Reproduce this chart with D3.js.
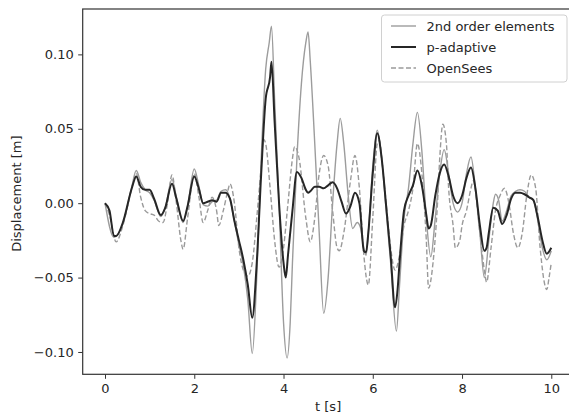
<!DOCTYPE html>
<html>
<head>
<meta charset="utf-8">
<script src="https://cdn.jsdelivr.net/npm/d3@7"></script>
<style>
  html, body { margin: 0; padding: 0; background: #fff; }
  svg { display: block; }
  text { font-family: "DejaVu Sans", sans-serif; fill: #262626; }
</style>
</head>
<body>
<svg id="chart" width="569" height="420"></svg>
<script>
// ---- data ----
const seriesNames = ["2nd order elements", "p-adaptive", "OpenSees"];

const secondOrder = [
  [0,0.000],[0.2,-0.023],[0.4,-0.014],[0.6,0.011],[0.7,0.022],[0.8,0.014],[0.9,0.009],[1.0,0.007],
  [1.1,0.002],[1.25,-0.009],[1.35,-0.003],[1.5,0.016],[1.6,0.004],[1.75,-0.013],[1.85,-0.002],
  [2.0,0.023],[2.1,0.012],[2.2,-0.001],[2.3,-0.002],[2.4,0.001],[2.5,0.002],[2.6,0.008],[2.7,0.009],
  [2.8,0.003],[2.9,-0.012],[3.0,-0.028],[3.1,-0.042],[3.2,-0.065],[3.3,-0.101],[3.4,-0.050],
  [3.5,0.030],[3.6,0.090],[3.68,0.108],[3.73,0.119],[3.8,0.070],[3.9,0.000],[4.0,-0.080],
  [4.08,-0.104],[4.15,-0.080],[4.2,-0.040],[4.3,0.030],[4.4,0.080],[4.5,0.108],[4.55,0.115],
  [4.6,0.095],[4.7,0.040],[4.8,-0.020],[4.9,-0.074],[5.0,-0.050],[5.1,0.000],[5.2,0.040],
  [5.27,0.057],[5.35,0.040],[5.45,0.005],[5.55,-0.017],[5.65,-0.013],[5.72,-0.016],[5.8,-0.030],
  [5.85,-0.035],[5.9,-0.020],[6.0,0.025],[6.1,0.049],[6.2,0.030],[6.3,-0.005],[6.4,-0.040],
  [6.53,-0.086],[6.6,-0.055],[6.7,-0.010],[6.8,0.010],[6.9,0.040],[7.0,0.061],[7.1,0.035],
  [7.2,-0.010],[7.3,-0.036],[7.4,-0.010],[7.5,0.020],[7.6,0.036],[7.7,0.020],[7.8,0.000],
  [7.9,-0.006],[8.0,0.000],[8.1,0.020],[8.2,0.031],[8.3,0.010],[8.4,-0.020],[8.5,-0.050],
  [8.6,-0.025],[8.7,0.000],[8.75,0.006],[8.82,0.002],[8.9,-0.012],[9.0,-0.005],[9.1,0.005],
  [9.2,0.008],[9.3,0.009],[9.4,0.008],[9.5,0.004],[9.6,0.002],[9.7,-0.012],[9.8,-0.030],
  [9.9,-0.038],[10.0,-0.032]
];

const pAdaptive = [
  [0,0.000],[0.1,-0.005],[0.2,-0.022],[0.25,-0.022],[0.4,-0.013],[0.6,0.010],[0.7,0.018],
  [0.8,0.011],[0.9,0.009],[1.0,0.009],[1.1,0.003],[1.25,-0.008],[1.35,-0.003],[1.5,0.013],
  [1.6,0.003],[1.75,-0.012],[1.85,-0.002],[2.0,0.018],[2.1,0.010],[2.2,0.000],[2.3,0.001],
  [2.4,0.002],[2.5,0.001],[2.6,0.007],[2.7,0.007],[2.8,0.003],[2.9,-0.012],[3.0,-0.025],
  [3.1,-0.038],[3.2,-0.055],[3.3,-0.077],[3.4,-0.040],[3.5,0.020],[3.6,0.070],[3.7,0.085],
  [3.73,0.095],[3.8,0.055],[3.9,0.000],[4.0,-0.040],[4.05,-0.050],[4.1,-0.035],[4.2,-0.005],
  [4.3,0.021],[4.4,0.017],[4.5,0.009],[4.55,0.007],[4.6,0.008],[4.7,0.011],[4.8,0.011],
  [4.9,0.010],[5.0,0.012],[5.1,0.014],[5.2,0.010],[5.3,0.001],[5.4,-0.007],[5.5,-0.002],
  [5.6,0.007],[5.7,0.000],[5.8,-0.032],[5.85,-0.033],[5.9,-0.020],[6.0,0.020],[6.1,0.047],
  [6.2,0.030],[6.3,-0.002],[6.4,-0.035],[6.5,-0.070],[6.55,-0.060],[6.6,-0.040],[6.7,-0.005],
  [6.8,0.005],[6.9,0.012],[7.0,0.022],[7.1,0.012],[7.2,-0.008],[7.25,-0.017],[7.3,-0.015],
  [7.4,0.005],[7.5,0.020],[7.6,0.026],[7.7,0.018],[7.8,0.005],[7.9,0.000],[8.0,0.005],
  [8.1,0.017],[8.2,0.024],[8.3,0.010],[8.4,-0.015],[8.5,-0.032],[8.55,-0.030],[8.6,-0.020],
  [8.7,-0.003],[8.8,-0.005],[8.9,-0.014],[9.0,-0.008],[9.1,0.003],[9.2,0.007],[9.3,0.007],
  [9.4,0.006],[9.5,0.004],[9.6,0.002],[9.7,-0.010],[9.8,-0.025],[9.9,-0.034],[10.0,-0.030]
];

const openSees = [
  [0,0.000],[0.1,-0.008],[0.25,-0.026],[0.4,-0.015],[0.6,0.010],[0.7,0.020],[0.8,0.004],
  [0.9,-0.005],[1.0,-0.007],[1.1,-0.008],[1.2,-0.012],[1.3,-0.013],[1.4,0.000],[1.5,0.019],
  [1.6,0.000],[1.7,-0.025],[1.75,-0.031],[1.85,-0.010],[2.0,0.020],[2.1,0.005],[2.2,-0.013],
  [2.3,-0.005],[2.4,0.004],[2.5,-0.005],[2.55,-0.015],[2.65,-0.005],[2.75,0.008],[2.8,0.013],
  [2.9,0.000],[3.0,-0.030],[3.1,-0.045],[3.2,-0.049],[3.3,-0.040],[3.4,-0.010],[3.5,0.025],
  [3.55,0.043],[3.6,0.040],[3.7,0.010],[3.8,-0.025],[3.9,-0.043],[4.0,-0.030],[4.1,0.000],
  [4.2,0.030],[4.25,0.038],[4.35,0.030],[4.5,-0.010],[4.6,-0.026],[4.7,-0.010],[4.8,0.020],
  [4.9,0.032],[5.0,0.025],[5.1,-0.005],[5.2,-0.030],[5.25,-0.032],[5.35,-0.020],[5.5,0.015],
  [5.6,0.032],[5.7,0.010],[5.8,-0.035],[5.9,-0.055],[6.0,-0.010],[6.1,0.040],[6.15,0.042],
  [6.2,0.030],[6.3,0.000],[6.4,-0.030],[6.5,-0.045],[6.6,-0.035],[6.7,-0.015],[6.8,-0.005],
  [6.9,0.010],[7.0,0.040],[7.1,0.020],[7.2,-0.025],[7.25,-0.057],[7.35,-0.040],[7.45,0.000],
  [7.5,0.030],[7.57,0.053],[7.65,0.040],[7.7,0.010],[7.8,-0.015],[7.85,-0.030],[7.95,-0.025],
  [8.0,-0.015],[8.1,-0.005],[8.2,0.010],[8.25,0.015],[8.4,-0.020],[8.5,-0.045],[8.55,-0.053],
  [8.65,-0.030],[8.75,-0.005],[8.85,0.005],[8.95,0.010],[9.05,0.000],[9.15,-0.020],[9.25,-0.030],
  [9.35,-0.020],[9.45,0.005],[9.55,0.019],[9.65,0.010],[9.75,-0.030],[9.9,-0.058],[9.95,-0.050],
  [10.0,-0.040]
];

const xTicks = [0, 2, 4, 6, 8, 10];
const yTicks = [-0.10, -0.05, 0.00, 0.05, 0.10];
const xLabel = "t [s]";
const yLabel = "Displacement [m]";

// ---- layout ----
const svg = d3.select("#chart");
const pL = 82.7, pR = 573.6, pT = 9, pB = 374.3;

const x = d3.scaleLinear().domain([-0.5, 10.5]).range([pL, pR]);
const y = d3.scaleLinear().domain([-0.115, 0.1305]).range([pB, pT]);

svg.append("defs").append("clipPath").attr("id", "clip")
  .append("rect").attr("x", pL).attr("y", pT).attr("width", pR - pL).attr("height", pB - pT);

const line = d3.line().x(d => x(d[0])).y(d => y(d[1])).curve(d3.curveMonotoneX);

const plot = svg.append("g").attr("clip-path", "url(#clip)");

plot.append("path").datum(openSees)
  .attr("fill", "none").attr("stroke", "#9a9a9a").attr("stroke-width", 1.4)
  .attr("stroke-dasharray", "5,2.5").attr("d", line);

plot.append("path").datum(secondOrder)
  .attr("fill", "none").attr("stroke", "#9c9c9c").attr("stroke-width", 1.4)
  .attr("stroke-linejoin", "round").attr("d", line);

plot.append("path").datum(pAdaptive)
  .attr("fill", "none").attr("stroke", "#262626").attr("stroke-width", 2)
  .attr("stroke-linejoin", "round").attr("d", line);

// ---- axes ----
const fs = 13;
const xAxis = d3.axisBottom(x).tickValues(xTicks).tickSize(4.5).tickPadding(4.5).tickFormat(d3.format("d"));
const yAxis = d3.axisLeft(y).tickValues(yTicks).tickSize(4.5).tickPadding(4.5)
  .tickFormat(d => (d < 0 ? "\u2212" : "") + Math.abs(d).toFixed(2));

const gx = svg.append("g").attr("transform", `translate(0,${pB})`).call(xAxis);
const gy = svg.append("g").attr("transform", `translate(${pL},0)`).call(yAxis);
[gx, gy].forEach(g => {
  g.select(".domain").remove();
  g.selectAll(".tick line").attr("stroke", "#333").attr("stroke-width", 1);
  g.selectAll(".tick text").attr("font-family", "DejaVu Sans").attr("font-size", fs).attr("fill", "#262626");
});

// frame (spines)
svg.append("rect").attr("x", pL).attr("y", pT).attr("width", pR - pL).attr("height", pB - pT)
  .attr("fill", "none").attr("stroke", "#333").attr("stroke-width", 1.2);

// axis labels
svg.append("text").attr("x", x(5)).attr("y", 411).attr("text-anchor", "middle")
  .attr("font-size", fs).text(xLabel);
svg.append("text").attr("transform", `translate(21,${(pT + pB) / 2 + 2}) rotate(-90)`)
  .attr("text-anchor", "middle").attr("font-size", fs).text(yLabel);

// ---- legend ----
const lg = svg.append("g");
lg.append("rect").attr("x", 381.5).attr("y", 15).attr("width", 185.5).attr("height", 67)
  .attr("rx", 3).attr("fill", "#fff").attr("fill-opacity", 0.85)
  .attr("stroke", "#d0d0d0").attr("stroke-width", 1);
const styles = [
  {stroke: "#9c9c9c", w: 1.4, dash: null},
  {stroke: "#262626", w: 2, dash: null},
  {stroke: "#9a9a9a", w: 1.4, dash: "5,2.5"}
];
const rowY = [26, 47, 68];
seriesNames.forEach((name, i) => {
  lg.append("line").attr("x1", 391).attr("x2", 416).attr("y1", rowY[i]).attr("y2", rowY[i])
    .attr("stroke", styles[i].stroke).attr("stroke-width", styles[i].w)
    .attr("stroke-dasharray", styles[i].dash);
  lg.append("text").attr("x", 426.5).attr("y", rowY[i]).attr("dy", "0.35em")
    .attr("font-size", fs).text(name);
});
</script>
</body>
</html>
